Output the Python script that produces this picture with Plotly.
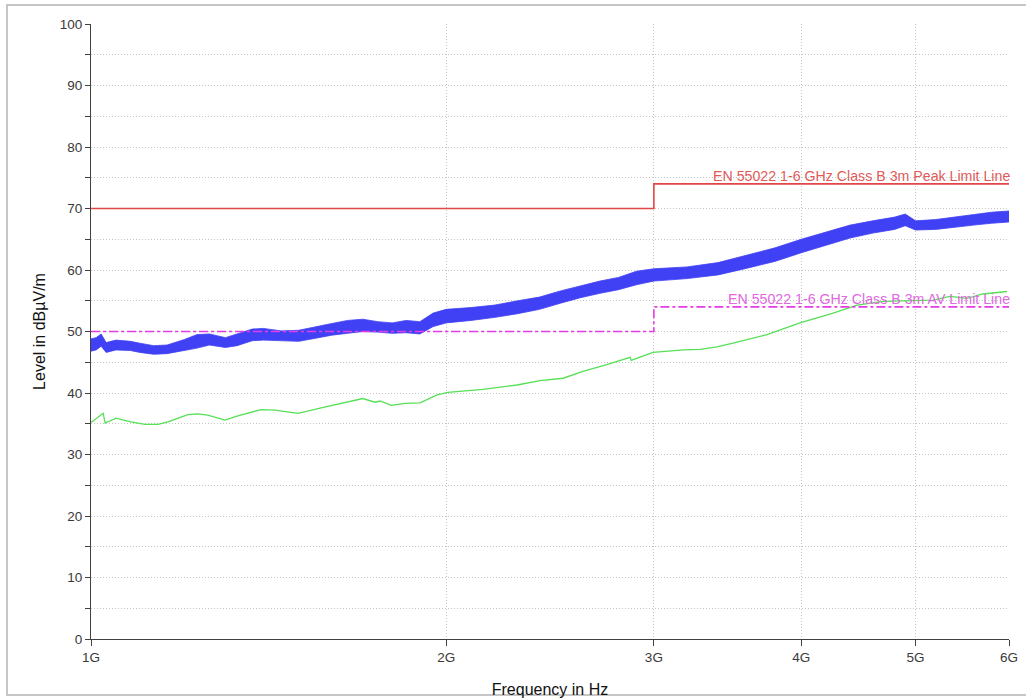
import plotly.graph_objects as go
import numpy as np

# ---------------- data ----------------
# Peak trace (noisy) given as lower / upper envelope, frequency in GHz
peak_freq_ghz = [1.00, 1.01, 1.02, 1.03, 1.05, 1.08, 1.10, 1.13, 1.16, 1.20,
                 1.23, 1.26, 1.30, 1.33, 1.37, 1.40, 1.45, 1.50, 1.55, 1.60,
                 1.65, 1.70, 1.75, 1.80, 1.85, 1.90, 1.95, 2.00, 2.10, 2.20,
                 2.30, 2.40, 2.50, 2.60, 2.70, 2.80, 2.90, 3.00, 3.20, 3.40,
                 3.60, 3.80, 4.00, 4.20, 4.40, 4.60, 4.80, 4.90, 5.00, 5.20,
                 5.40, 5.60, 5.80, 6.00]
peak_low = [46.8, 47.0, 47.6, 46.6, 47.0, 46.9, 46.6, 46.3, 46.4, 46.9,
            47.3, 47.8, 47.4, 47.7, 48.5, 48.6, 48.5, 48.4, 48.9, 49.4,
            49.7, 50.0, 49.9, 49.7, 49.8, 49.6, 50.8, 51.4, 51.8, 52.3,
            52.9, 53.6, 54.6, 55.5, 56.2, 56.8, 57.6, 58.2, 58.6, 59.2,
            60.3, 61.4, 62.8, 64.0, 65.2, 66.0, 66.6, 67.2, 66.5, 66.6,
            66.9, 67.3, 67.6, 67.8]
peak_high = [48.8, 49.0, 49.6, 48.2, 48.6, 48.4, 48.1, 47.7, 47.8, 48.7,
             49.5, 49.6, 49.0, 49.6, 50.4, 50.5, 50.1, 50.2, 50.7, 51.3,
             51.8, 52.0, 51.6, 51.4, 51.8, 51.6, 53.0, 53.6, 53.9, 54.3,
             55.0, 55.6, 56.6, 57.4, 58.2, 58.8, 59.8, 60.2, 60.5, 61.2,
             62.4, 63.6, 65.0, 66.2, 67.3, 68.0, 68.6, 69.1, 68.0, 68.2,
             68.6, 69.1, 69.4, 69.6]

# Average trace
avg_freq_ghz = [1.000, 1.024, 1.028, 1.050, 1.081, 1.111, 1.140, 1.162, 1.208,
                1.232, 1.256, 1.299, 1.332, 1.394, 1.432, 1.498, 1.567, 1.629,
                1.700, 1.741, 1.758, 1.796, 1.846, 1.901, 1.965, 2.007, 2.149,
                2.297, 2.402, 2.513, 2.612, 2.737, 2.864, 2.870, 2.995, 3.177,
                3.283, 3.393, 3.501, 3.741, 3.990, 4.256, 4.461, 4.692, 5.014,
                5.172, 5.348, 5.529, 5.703, 5.976]
avg_level = [35.2, 36.7, 35.1, 35.9, 35.3, 34.9, 34.9, 35.3, 36.5,
             36.6, 36.4, 35.6, 36.3, 37.3, 37.2, 36.7, 37.6, 38.3,
             39.1, 38.5, 38.7, 38.0, 38.3, 38.4, 39.7, 40.1, 40.6,
             41.3, 42.0, 42.4, 43.5, 44.6, 45.8, 45.3, 46.6, 47.0,
             47.1, 47.5, 48.1, 49.5, 51.4, 53.0, 54.3, 54.9, 55.0,
             55.1, 55.7, 55.4, 56.1, 56.5]

# Limit lines (step at 3 GHz)
limit_freq_ghz = [1.0, 3.0, 3.0, 6.0]
peak_limit = [70, 70, 74, 74]
av_limit = [50, 50, 54, 54]

peak_label = "EN 55022 1-6 GHz Class B 3m Peak Limit Line"
av_label = "EN 55022 1-6 GHz Class B 3m AV Limit Line"

x_tick_vals_ghz = [1, 2, 3, 4, 5, 6]
x_tick_text = ["1G", "2G", "3G", "4G", "5G", "6G"]
y_tick_vals = list(range(0, 101, 5))
y_tick_text = [str(v) if v % 10 == 0 else "" for v in y_tick_vals]

# ---------------- figure ----------------
G = 1e9
to_hz = lambda arr: [v * G for v in arr]

BLUE = "#4040f4"
GREEN = "#55e055"
RED = "#e24646"
MAGENTA = "#e43ce4"
GRID = "#c4c4c4"

fig = go.Figure()

fig.add_trace(go.Scatter(x=to_hz(peak_freq_ghz), y=peak_low, mode="lines",
                         line=dict(color=BLUE, width=0.8), showlegend=False,
                         hoverinfo="skip"))
fig.add_trace(go.Scatter(x=to_hz(peak_freq_ghz), y=peak_high, mode="lines",
                         line=dict(color=BLUE, width=0.8), fill="tonexty",
                         fillcolor=BLUE, showlegend=False, name="Peak"))

fig.add_trace(go.Scatter(x=to_hz(avg_freq_ghz), y=avg_level, mode="lines",
                         line=dict(color=GREEN, width=1.3), showlegend=False,
                         name="Average"))

fig.add_trace(go.Scatter(x=to_hz(limit_freq_ghz), y=peak_limit, mode="lines",
                         line=dict(color=RED, width=1.6), showlegend=False,
                         name=peak_label))
fig.add_trace(go.Scatter(x=to_hz(limit_freq_ghz), y=av_limit, mode="lines",
                         line=dict(color=MAGENTA, width=1.6, dash="dashdot"),
                         showlegend=False, name=av_label))

fig.add_annotation(x=np.log10(6 * G), y=peak_limit[-1], text=peak_label,
                   xanchor="right", yanchor="bottom", showarrow=False,
                   font=dict(color="#e05a5a", size=14.2), yshift=-2, xshift=3)
fig.add_annotation(x=np.log10(6 * G), y=av_limit[-1], text=av_label,
                   xanchor="right", yanchor="bottom", showarrow=False,
                   font=dict(color="#e068e0", size=14.2), yshift=-2, xshift=3)

W, H = 1026, 698
L, R, T, B = 91, 17, 24, 59
PW, PH = W - L - R, H - T - B

# outer frame of the picture (pixel positions converted to paper coords)
fig.add_shape(type="rect", xref="paper", yref="paper",
              x0=(7 - L) / PW, x1=(1035 - L) / PW,
              y0=(H - B - 695) / PH, y1=(H - B - 5) / PH,
              line=dict(color="#b4b4b4", width=1.5), layer="below")

fig.update_layout(
    width=W, height=H, autosize=False,
    margin=dict(l=L, r=R, t=T, b=B, autoexpand=False),
    paper_bgcolor="white", plot_bgcolor="white",
    font=dict(family="Arial, Liberation Sans, sans-serif", color="#3a3a3a", size=13),
    showlegend=False,
)
fig.update_xaxes(
    type="log", range=[9, np.log10(6 * G)], automargin=False,
    tickvals=to_hz(x_tick_vals_ghz), ticktext=x_tick_text,
    ticks="outside", ticklen=6, tickcolor="#404040",
    showline=True, linecolor="#404040", linewidth=1.2,
    showgrid=True, gridcolor=GRID, griddash="1px,2px", gridwidth=1,
    zeroline=False, tickfont=dict(size=13.5, color="#3a3a3a"),
    title=dict(text="Frequency in Hz", font=dict(size=16, color="#111111"), standoff=19),
)
fig.update_yaxes(
    range=[0, 100], automargin=False,
    tickvals=y_tick_vals, ticktext=y_tick_text,
    ticks="outside", ticklen=5, tickcolor="#404040",
    showline=True, linecolor="#404040", linewidth=1.2,
    showgrid=True, gridcolor=GRID, griddash="1px,2px", gridwidth=1,
    zeroline=False, tickfont=dict(size=13.5, color="#3a3a3a"),
    title=dict(text="Level in dBµV/m", font=dict(size=16, color="#111111"), standoff=10),
)

fig.write_html("out.html", config={"displayModeBar": False},
               post_script="document.body.style.margin='0';document.body.style.overflow='hidden';")
